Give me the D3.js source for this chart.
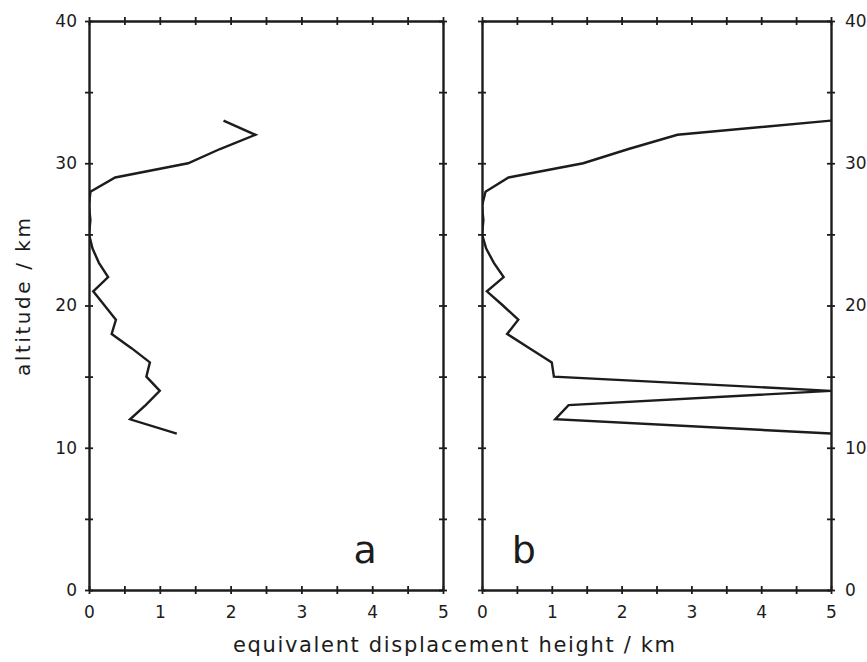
<!DOCTYPE html>
<html>
<head>
<meta charset="utf-8">
<script src="https://cdn.jsdelivr.net/npm/d3@7/dist/d3.min.js"></script>
<style>
  body { margin: 0; background: #fff; }
  svg { display: block; }
  text { font-family: "DejaVu Sans", sans-serif; fill: #1c1c1c; }
</style>
</head>
<body>
<svg id="chart" width="867" height="662"></svg>
<script>
// Altitude levels (km) shared by both profiles
const altitudes = [33, 32, 31, 30, 29, 28, 27, 26, 25, 24, 23, 22, 21, 20, 19, 18, 17, 16, 15, 14, 13, 12, 11];

// Panel a: equivalent displacement height (km)
const displacementA = [1.9, 2.35, 1.85, 1.4, 0.37, 0.02, 0.0, 0.02, 0.0, 0.05, 0.14, 0.27, 0.06, 0.22, 0.38, 0.32, 0.6, 0.86, 0.81, 1.0, 0.8, 0.58, 1.24];

// Panel b: equivalent displacement height (km), off-scale values held at the axis limit
const displacementB = [5.0, 2.8, 2.1, 1.45, 0.38, 0.05, 0.0, 0.02, 0.0, 0.06, 0.17, 0.31, 0.07, 0.3, 0.52, 0.36, 0.68, 1.0, 1.03, 5.0, 1.24, 1.05, 5.0];

const xTickLabels = [0, 1, 2, 3, 4, 5];
const yTickLabels = [0, 10, 20, 30, 40];
const panelLetters = ["a", "b"];

const svg = d3.select("#chart");
const ink = "#1c1c1c";

const plotTop = 21, plotBottom = 590;
const panels = [
  { left: 89, right: 443, values: displacementA, letter: panelLetters[0], yLabels: "left" },
  { left: 482, right: 831, values: displacementB, letter: panelLetters[1], yLabels: "right" }
];

const y = d3.scaleLinear().domain([0, 40]).range([plotBottom, plotTop]);

panels.forEach((p, i) => {
  const x = d3.scaleLinear().domain([0, 5]).range([p.left, p.right]);
  const g = svg.append("g");

  // clip region for the profile
  const clipId = "clip" + i;
  svg.append("clipPath").attr("id", clipId)
    .append("rect").attr("x", p.left).attr("y", plotTop)
    .attr("width", p.right - p.left).attr("height", plotBottom - plotTop);

  // crossing minor ticks on all four sides
  const minorX = d3.range(0, 5.01, 0.5);
  const minorY = d3.range(0, 40.1, 5);

  const addTicksX = (yPos) => {
    const ax = g.append("g").attr("transform", `translate(0,${yPos})`)
      .call(d3.axisBottom(x).tickValues(minorX).tickSize(4).tickSizeOuter(0).tickFormat(""));
    ax.selectAll(".tick line").attr("y1", -4).attr("y2", 4).attr("stroke", ink).attr("stroke-width", 1.8);
    ax.select(".domain").attr("stroke", ink).attr("stroke-width", 2.4);
  };
  const addTicksY = (xPos) => {
    const ax = g.append("g").attr("transform", `translate(${xPos},0)`)
      .call(d3.axisLeft(y).tickValues(minorY).tickSize(4).tickSizeOuter(0).tickFormat(""));
    ax.selectAll(".tick line").attr("x1", -4).attr("x2", 4).attr("stroke", ink).attr("stroke-width", 1.8);
    ax.select(".domain").attr("stroke", ink).attr("stroke-width", 2.4);
  };
  addTicksX(plotBottom);
  addTicksX(plotTop);
  addTicksY(p.left);
  addTicksY(p.right);

  // x tick labels
  const xl = g.append("g").attr("transform", `translate(0,${plotBottom})`)
    .call(d3.axisBottom(x).tickValues(xTickLabels).tickSize(0).tickPadding(16).tickFormat(d3.format("d")));
  xl.select(".domain").remove();
  xl.selectAll("text").attr("font-size", 17).attr("font-family", "DejaVu Sans, sans-serif").attr("fill", ink);

  // y tick labels
  if (p.yLabels === "left") {
    const yl = g.append("g").attr("transform", `translate(${p.left},0)`)
      .call(d3.axisLeft(y).tickValues(yTickLabels).tickSize(0).tickPadding(12).tickFormat(d3.format("d")));
    yl.select(".domain").remove();
    yl.selectAll("text").attr("font-size", 17).attr("font-family", "DejaVu Sans, sans-serif").attr("fill", ink);
  } else {
    const yl = g.append("g").attr("transform", `translate(${p.right},0)`)
      .call(d3.axisRight(y).tickValues(yTickLabels).tickSize(0).tickPadding(14).tickFormat(d3.format("d")));
    yl.select(".domain").remove();
    yl.selectAll("text").attr("font-size", 17).attr("font-family", "DejaVu Sans, sans-serif").attr("fill", ink);
  }

  // profile line
  const line = d3.line().x(d => x(d[0])).y(d => y(d[1]));
  g.append("path")
    .datum(p.values.map((v, k) => [v, altitudes[k]]))
    .attr("clip-path", `url(#${clipId})`)
    .attr("d", line)
    .attr("fill", "none")
    .attr("stroke", ink)
    .attr("stroke-width", 2.4)
    .attr("stroke-linejoin", "miter");

  // panel letter
  g.append("text")
    .attr("x", i === 0 ? x(3.9) : x(0.6))
    .attr("y", y(1.9))
    .attr("text-anchor", "middle")
    .attr("font-size", 38)
    .text(p.letter);
});

// axis titles
svg.append("text")
  .attr("x", 454).attr("y", 652)
  .attr("text-anchor", "middle")
  .attr("font-size", 21)
  .attr("textLength", 442)
  .attr("lengthAdjust", "spacing")
  .text("equivalent displacement height / km");

svg.append("text")
  .attr("transform", "translate(30,297) rotate(-90)")
  .attr("text-anchor", "middle")
  .attr("font-size", 20)
  .attr("textLength", 158)
  .attr("lengthAdjust", "spacing")
  .text("altitude / km");
</script>
</body>
</html>
